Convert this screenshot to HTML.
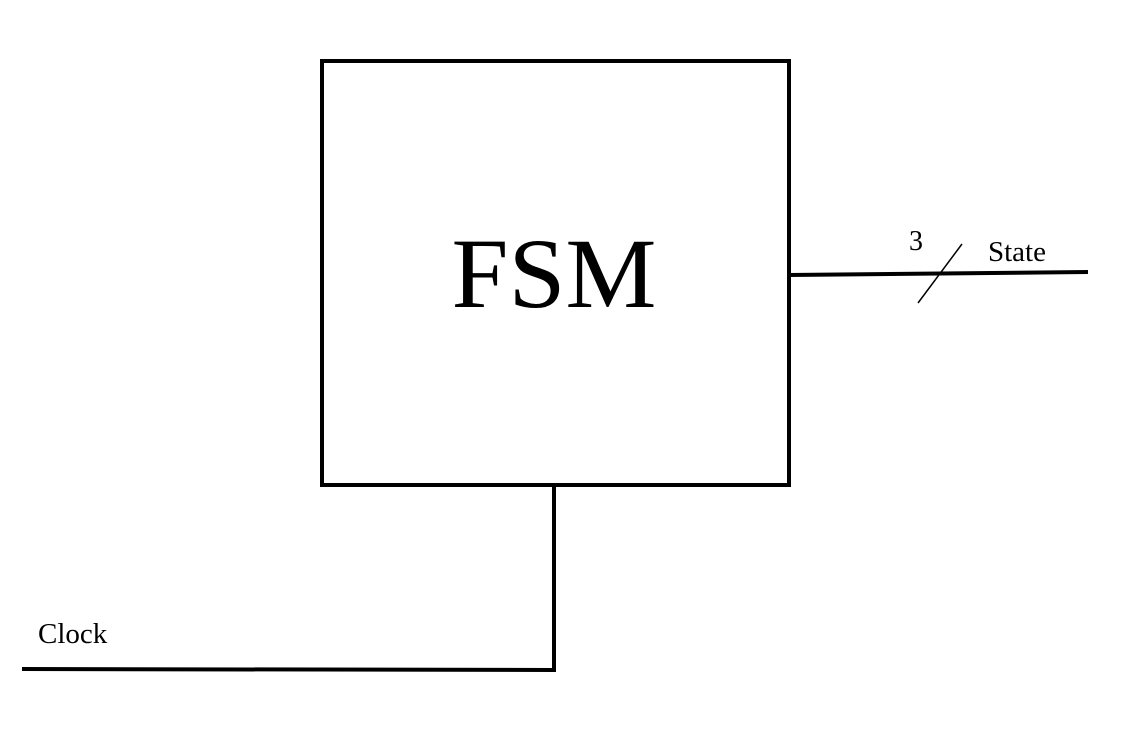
<!DOCTYPE html>
<html><head><style>body{margin:0;background:#fff}</style></head><body>
<svg width="1142" height="746" xmlns="http://www.w3.org/2000/svg" style="display:block">
<rect x="0" y="0" width="1142" height="746" fill="#fff"/>
<rect x="322" y="61" width="467" height="424" fill="none" stroke="#000" stroke-width="4"/>
<text x="554" y="307" font-family="Liberation Serif, serif" font-size="100" text-anchor="middle" textLength="205" lengthAdjust="spacingAndGlyphs">FSM</text>
<polyline points="789,275 1088,272" fill="none" stroke="#000" stroke-width="4"/>
<line x1="918" y1="303" x2="962" y2="244" stroke="#000" stroke-width="1.5"/>
<text x="909" y="250" font-family="Liberation Serif, serif" font-size="28">3</text>
<text x="988" y="261" font-family="Liberation Serif, serif" font-size="29">State</text>
<polyline points="554,485 554,670 22,669" fill="none" stroke="#000" stroke-width="4"/>
<text x="38" y="643" font-family="Liberation Serif, serif" font-size="29">Clock</text>
</svg>
</body></html>
